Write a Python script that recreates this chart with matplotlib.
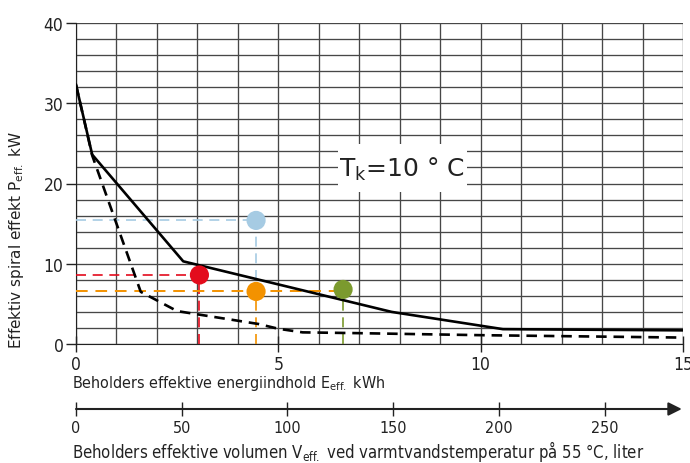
import matplotlib
matplotlib.use('Agg')
import matplotlib.pyplot as plt
from matplotlib import font_manager as fm
from matplotlib.patches import Rectangle

# narrow font for axis texts, if one is installed
narrow = None
for f in fm.fontManager.ttflist:
    fn = f.fname.lower()
    if ('narrow' in fn or 'condensed' in fn) and 'bold' not in fn and 'italic' not in fn \
            and 'oblique' not in fn and 'mono' not in fn and 'serif' not in fn:
        narrow = f.name
        stretch = f.stretch
        break
if narrow:
    plt.rcParams['font.family'] = [narrow, 'DejaVu Sans']
    plt.rcParams['font.stretch'] = stretch
plt.rcParams['mathtext.default'] = 'regular'

# curves (E in kWh, P in kW)
e_solid = [0, 0.4, 2.65, 7.8, 10.55, 15]
p_solid = [32.3, 23.6, 10.3, 4.0, 1.85, 1.7]
e_dash = [0, 0.4, 1.6, 2.5, 3.0, 4.5, 5.0, 5.6, 7.0, 10.0, 15.0]
p_dash = [32.3, 23.5, 6.5, 4.1, 3.7, 2.5, 1.9, 1.45, 1.35, 1.1, 0.8]

# marked points
pt_e = [3.05, 4.45, 4.45, 6.6]
pt_p = [8.6, 15.4, 6.55, 6.8]
pt_col = ['#e30b1c', '#a6cbe3', '#f39200', '#7b9a2e']

e_ticks = [0, 5, 10, 15]
p_ticks = [0, 10, 20, 30, 40]
v_ticks = [0, 50, 100, 150, 200, 250]

fig = plt.figure(figsize=(6.9, 4.64), dpi=100)
ax = fig.add_axes([76 / 690, 1 - 345 / 464, 607 / 690, 321 / 464])
ax.set_xlim(0, 15)
ax.set_ylim(0, 40)

# grid
for x in range(0, 16):
    ax.axvline(x, color='#474747', lw=0.95, zorder=1)
for y in range(0, 41, 2):
    ax.axhline(y, color='#474747', lw=0.95, zorder=1)

# white box behind label
ax.add_patch(Rectangle((6.47, 18.94), 3.19, 5.98, facecolor='white',
                       edgecolor='none', zorder=2))
ax.text(8.06, 21.9, 'T$_{k}$=10 ° C', ha='center', va='center',
        fontsize=18, family=['DejaVu Sans'], stretch='normal',
        color='#222222', zorder=3)

# helper lines to points
dash = (6, 4)
r, b, o, g = range(4)
ax.plot([0, pt_e[b]], [pt_p[b]] * 2, color=pt_col[b], lw=1.2, dashes=dash, zorder=3)
ax.plot([pt_e[b]] * 2, [pt_p[b], pt_p[o]], color=pt_col[b], lw=1.2, dashes=dash, zorder=3)
ax.plot([0, pt_e[r]], [pt_p[r]] * 2, color=pt_col[r], lw=1.2, dashes=dash, zorder=3)
ax.plot([pt_e[r]] * 2, [0, pt_p[r]], color=pt_col[r], lw=1.2, dashes=dash, zorder=3)
ax.plot([0, pt_e[g]], [pt_p[o]] * 2, color=pt_col[o], lw=1.4, dashes=dash, zorder=3)
ax.plot([pt_e[o]] * 2, [0, pt_p[o]], color=pt_col[o], lw=1.2, dashes=dash, zorder=3)
ax.plot([pt_e[g]] * 2, [0, pt_p[g]], color=pt_col[g], lw=1.2, dashes=dash, zorder=3)

# curves
ax.plot(e_solid, p_solid, color='black', lw=1.9, zorder=4)
ax.plot(e_dash, p_dash, color='black', lw=1.9, dashes=(4, 2.6), zorder=4)

ax.scatter(pt_e, pt_p, s=190, c=pt_col, edgecolors='none', zorder=5)

for s in ['top', 'right']:
    ax.spines[s].set_visible(False)
ax.spines['left'].set_color('#222222')
ax.spines['bottom'].set_color('#222222')
ax.set_xticks(e_ticks)
ax.set_yticks(p_ticks)
ax.tick_params(axis='x', direction='inout', length=12, width=1.0, pad=2,
               labelsize=12.5, colors='#222222')
ax.tick_params(axis='y', direction='out', length=7, width=1.0, pad=2,
               labelsize=12.5, colors='#222222')

fig.text(72 / 690, 1 - 388 / 464, 'Beholders effektive energiindhold E$_{eff.}$ kWh',
         ha='left', va='baseline', fontsize=11.5, color='#222222')
fig.text(17 / 690, 1 - 240 / 464, 'Effektiv spiral effekt P$_{eff.}$ kW',
         rotation=90, ha='center', va='center', fontsize=11,
         family=['DejaVu Sans'], stretch='normal', color='#222222')

# volume axis
ax2 = fig.add_axes([76 / 690, 1 - 410 / 464, 607 / 690, 0.0001])
ax2.set_xlim(0, 287)
ax2.set_ylim(0, 1)
for s in ['top', 'right', 'left', 'bottom']:
    ax2.spines[s].set_visible(False)
ax2.set_yticks([])
ax2.set_xticks(v_ticks)
ax2.tick_params(axis='x', direction='inout', length=10, width=1.0, pad=3,
                labelsize=11.5, colors='#222222')
ax2.annotate('', xy=(0.998, 0), xytext=(0, 0), xycoords='axes fraction',
             arrowprops=dict(arrowstyle='-|>', lw=1.5, color='#222222',
                             mutation_scale=20, shrinkA=0, shrinkB=0),
             annotation_clip=False)
fig.text(72 / 690, 1 - 458 / 464,
         'Beholders effektive volumen V$_{eff.}$ ved varmtvandstemperatur på 55 °C, liter',
         ha='left', va='baseline', fontsize=12, color='#222222')

fig.savefig('out.png', dpi=100)
